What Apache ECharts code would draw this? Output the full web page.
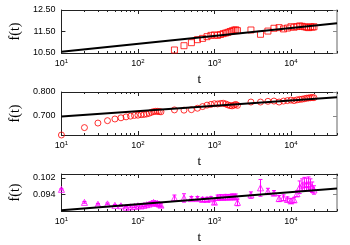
<!DOCTYPE html>
<html><head><meta charset="utf-8">
<script src="https://cdn.jsdelivr.net/npm/echarts@6/dist/echarts.min.js"></script>
<style>html,body{margin:0;padding:0;background:#fff}#c{width:350px;height:245px}</style>
</head><body><div id="c"></div>
<script>
// ---- data ----
const tValues = [10,20,30,40,50,60,70,80,90,100,110,120,130,140,150,160,170,180,190,200,
  300,400,500,600,700,800,900,1000,1100,1200,1300,1400,1500,1600,1700,1800,1900,2000,
  3000,4000,5000,6000,7000,8000,9000,10000,11000,12000,13000,14000,15000,16000,17000,18000,19000,20000];
// top panel (squares); values below the visible range are not shown
const squareValues = [null,null,null,null,null,null,null,null,null,null,null,null,null,null,null,null,null,null,null,null,
  10.64,10.84,10.98,11.12,11.18,11.26,11.32,11.34,11.32,11.36,11.40,11.43,11.46,11.50,11.53,11.56,11.58,11.54,
  11.57,11.37,11.52,11.65,11.68,11.62,11.66,11.72,11.70,11.73,11.76,11.74,11.72,11.70,11.68,11.72,11.70,11.72];
// middle panel (circles)
const circleValues = [0.620,0.651,0.670,0.680,0.687,0.692,0.696,0.699,0.702,0.703,0.705,0.706,0.708,0.711,0.715,0.718,0.719,0.719,0.718,0.717,
  0.725,0.724,0.726,0.732,0.739,0.745,0.748,0.751,0.750,0.752,0.753,0.750,0.746,0.743,0.742,0.745,0.748,0.744,
  0.758,0.758,0.761,0.762,0.758,0.762,0.764,0.766,0.764,0.767,0.769,0.770,0.772,0.774,0.775,0.776,0.777,0.776];
// bottom panel (triangles) with error bars
const triangleValues = [0.0965,0.0903,0.0894,0.0896,0.0889,0.0887,0.0880,0.0882,0.0884,0.0887,0.0886,0.0889,0.0892,0.0895,0.0899,0.0903,0.0900,0.0898,0.0895,0.0890,
  0.0924,0.0924,0.0921,0.0921,0.0917,0.0917,0.0920,0.0904,0.0926,0.0928,0.0927,0.0929,0.0928,0.0929,0.0930,0.0929,0.0930,0.0903,
  0.0938,0.0972,0.0955,0.0947,0.0921,0.0925,0.0917,0.0910,0.0915,0.0944,0.0975,0.0985,0.0990,0.0988,0.0992,0.0985,0.0975,0.0962];
const triangleErrors = [0.0003,0.0004,0.0004,0.0004,0.0004,0.0004,0.0004,0.0005,0.0005,0.0005,0.0005,0.0006,0.0006,0.0006,0.0007,0.0007,0.0008,0.0008,0.0009,0.0009,
  0.0014,0.0020,0.0010,0.0010,0.0010,0.0010,0.0010,0.0010,0.0012,0.0012,0.0012,0.0012,0.0012,0.0012,0.0013,0.0013,0.0013,0.0016,
  0.0015,0.0040,0.0015,0.0012,0.0014,0.0014,0.0012,0.0012,0.0012,0.0014,0.0030,0.0030,0.0032,0.0030,0.0032,0.0030,0.0025,0.0020];
// fitted straight lines (two end points each, straight on log-x)
const fitT = [10, 40000];
const fitTop = [10.56, 11.88];
const fitMiddle = [0.697, 0.778];
const fitBottom = [0.0866, 0.0969];
// ticks
const xMajorTicks = [10,100,1000,10000];
const xMinorTicks = [20,30,40,50,60,70,80,90,200,300,400,500,600,700,800,900,2000,3000,4000,5000,6000,7000,8000,9000,20000,30000,40000];
const yTicksTop = [10.5, 11.5, 12.5];
const yTicksMiddle = [0.7, 0.8];
const yTicksBottom = [0.094, 0.102];
const yRanges = [[10.5,12.5],[0.62,0.80],[0.0862,0.1038]];
const yDecimals = [2,3,3];

// ---- chart ----
const chart = echarts.init(document.getElementById('c'));
const tops = [10, 92, 174];
const H = 43;
const sans = 'Liberation Sans';
const serif = 'Liberation Serif';
const dark = '#222';
const grids = tops.map(t => ({left: 58, right: 13, top: t, height: H}));
const xAxes = [], yAxes = [];
const yTickSets = [yTicksTop, yTicksMiddle, yTicksBottom];
for (let g = 0; g < 3; g++) {
  const base = {type: 'log', logBase: 10, min: 10, max: 40000, gridIndex: g, splitLine: {show: false}};
  xAxes.push(Object.assign({}, base, {
    position: 'bottom',
    axisLine: {show: true, lineStyle: {color: dark, width: 1}},
    axisTick: {show: true, inside: true, length: 4, customValues: xMajorTicks, lineStyle: {color: dark}},
    axisLabel: {show: true, customValues: xMajorTicks, color: '#000', fontFamily: sans, fontSize: 9, margin: 5,
      formatter: v => '10{s|' + Math.round(Math.log10(v)) + '}',
      rich: {s: {fontSize: 6, fontFamily: sans, color: '#000', verticalAlign: 'top', padding: [0,0,5,0]}}},
    name: 't', nameLocation: 'middle', nameGap: 20,
    nameTextStyle: {fontFamily: serif, fontSize: 13, color: '#000'}
  }));
  xAxes.push(Object.assign({}, base, {
    position: 'bottom', axisLine: {show: false},
    axisTick: {show: true, inside: true, length: 2, customValues: xMinorTicks, lineStyle: {color: dark}},
    axisLabel: {show: false}
  }));
  xAxes.push(Object.assign({}, base, {
    position: 'top', axisLine: {show: true, lineStyle: {color: dark, width: 1}},
    axisTick: {show: true, inside: true, length: 4, customValues: xMajorTicks, lineStyle: {color: dark}},
    axisLabel: {show: false}
  }));
  xAxes.push(Object.assign({}, base, {
    position: 'top', axisLine: {show: false},
    axisTick: {show: true, inside: true, length: 2, customValues: xMinorTicks, lineStyle: {color: dark}},
    axisLabel: {show: false}
  }));
  const yb = {type: 'value', min: yRanges[g][0], max: yRanges[g][1], gridIndex: g, splitLine: {show: false}};
  const dec = yDecimals[g];
  yAxes.push(Object.assign({}, yb, {
    position: 'left',
    axisLine: {show: true, lineStyle: {color: dark, width: 1}},
    axisTick: {show: true, inside: true, length: 4, customValues: yTickSets[g], lineStyle: {color: dark}},
    axisLabel: {show: true, customValues: yTickSets[g], color: '#000', fontFamily: sans, fontSize: 9, margin: 6,
      formatter: v => Number(v).toFixed(dec)},
    name: 'f(t)', nameLocation: 'middle', nameRotate: 90, nameGap: 29,
    nameTextStyle: {fontFamily: serif, fontSize: 14, color: '#000'}
  }));
  yAxes.push(Object.assign({}, yb, {
    position: 'right',
    axisLine: {show: true, lineStyle: {color: '#999', width: 1.5}},
    axisTick: {show: true, inside: true, length: 4, customValues: yTickSets[g], lineStyle: {color: '#888'}},
    axisLabel: {show: false}
  }));
}
const pairs = vals => tValues.map((t, i) => [t, vals[i]]).filter(p => p[1] !== null);
const fitPairs = vals => fitT.map((t, i) => [t, vals[i]]);
const markerStyle = c => ({color: 'transparent', borderColor: c, borderWidth: 1});
const red = '#ff0000', mag = '#ff00ff';
const series = [
  {type: 'scatter', xAxisIndex: 0, yAxisIndex: 0, symbol: 'rect', symbolSize: 6, itemStyle: markerStyle(red), data: pairs(squareValues), z: 2},
  {type: 'line', xAxisIndex: 0, yAxisIndex: 0, symbol: 'none', lineStyle: {color: '#000', width: 2}, data: fitPairs(fitTop), z: 3},
  {type: 'scatter', xAxisIndex: 4, yAxisIndex: 2, symbol: 'circle', symbolSize: 6, itemStyle: markerStyle(red), data: pairs(circleValues), z: 2},
  {type: 'line', xAxisIndex: 4, yAxisIndex: 2, symbol: 'none', lineStyle: {color: '#000', width: 2}, data: fitPairs(fitMiddle), z: 3},
  {type: 'custom', xAxisIndex: 8, yAxisIndex: 4, z: 2,
    data: tValues.map((t, i) => [t, triangleValues[i], triangleErrors[i]]),
    renderItem: (params, api) => {
      const x = api.value(0), y = api.value(1), e = api.value(2);
      const lo = api.coord([x, y - e]), hi = api.coord([x, y + e]);
      const st = {stroke: mag, lineWidth: 1};
      return {type: 'group', children: [
        {type: 'line', shape: {x1: lo[0], y1: lo[1], x2: hi[0], y2: hi[1]}, style: st},
        {type: 'line', shape: {x1: lo[0]-2, y1: lo[1], x2: lo[0]+2, y2: lo[1]}, style: st},
        {type: 'line', shape: {x1: hi[0]-2, y1: hi[1], x2: hi[0]+2, y2: hi[1]}, style: st}
      ]};
    }},
  {type: 'scatter', xAxisIndex: 8, yAxisIndex: 4, symbol: 'triangle', symbolSize: 6, itemStyle: markerStyle(mag), data: pairs(triangleValues), z: 2},
  {type: 'line', xAxisIndex: 8, yAxisIndex: 4, symbol: 'none', lineStyle: {color: '#000', width: 2}, data: fitPairs(fitBottom), z: 3}
];
chart.setOption({animation: false, backgroundColor: '#fff', grid: grids, xAxis: xAxes, yAxis: yAxes, series: series});
</script>
</body></html>
